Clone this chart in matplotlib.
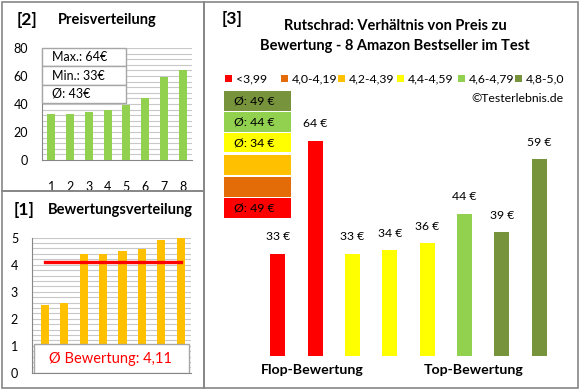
import numpy as np
import matplotlib
matplotlib.use('Agg')
import matplotlib.pyplot as plt
from matplotlib.patches import Rectangle

plt.rcParams['font.family'] = ['Lato', 'DejaVu Sans']

# data: products in rating order
ratings = [2.5, 2.6, 4.4, 4.4, 4.5, 4.6, 4.9, 5.0]
prices = [33, 64, 33, 34, 36, 44, 39, 59]
avg_rating_label = 'Ø Bewertung: 4,11'
avg_rating = 4.11

# rating classes
class_labels = ['<3,99', '4,0-4,19', '4,2-4,39', '4,4-4,59', '4,6-4,79', '4,8-5,0']
class_edges = [0, 4.0, 4.2, 4.4, 4.6, 4.8, 5.01]
class_colors = ['#FF0000', '#E36C09', '#FFC000', '#FFFF00', '#92D050', '#77933C']

W, H = 580, 390
grey = '#868686'
gridc = '#C8C8C8'


def fx(x):
    return x / W


def fy(y):
    return 1 - y / H


def ax_at(x0, y0, x1, y1):
    return fig.add_axes([fx(x0), fy(y1), (x1 - x0) / W, (y1 - y0) / H])


def cls(r):
    for i in range(len(class_labels)):
        if class_edges[i] <= r < class_edges[i + 1]:
            return i
    return len(class_labels) - 1


fig = plt.figure(figsize=(5.8, 3.9), dpi=100)

# panel frames
for (x0, y0, x1, y1) in [(2, 2, 204, 191), (2, 191, 204, 388), (204, 2, 578, 388)]:
    fig.add_artist(Rectangle((fx(x0), fy(y1)), (x1 - x0) / W, (y1 - y0) / H,
                             transform=fig.transFigure, fill=False, ec=grey, lw=1.2))

# ---------- [2] Preisverteilung ----------
fig.text(fx(17), fy(20), '[2]', fontsize=12.5, fontweight='bold', va='center')
fig.text(fx(58), fy(20), 'Preisverteilung', fontsize=10.5, fontweight='bold', va='center')

ax1 = ax_at(42, 48, 192, 160)
sp = sorted(prices)
xs = np.arange(1, len(sp) + 1)
ax1.bar(xs, sp, width=0.42, color='#92D050', zorder=3)
ax1.set_xlim(0.5, 8.5)
ax1.set_ylim(0, 80)
ax1.set_yticks([0, 20, 40, 60, 80])
ax1.set_xticks(xs)
for y in np.arange(4, 81, 4):
    ax1.axhline(y, color=gridc, lw=0.8, zorder=1)
for s in ['top', 'right']:
    ax1.spines[s].set_visible(False)
for s in ['left', 'bottom']:
    ax1.spines[s].set_color(grey)
ax1.tick_params(length=0, labelsize=9)
ax1.tick_params(axis='x', pad=15)
ax1.tick_params(axis='y', pad=10)

stats = ['Max.: %d€' % max(prices), 'Min.: %d€' % min(prices),
         'Ø: %d€' % int(np.mean(prices) + 0.5)]
bx0, bx1, by0, by1 = 42, 126, 48, 103
rh = (by1 - by0) / 3
for i, t in enumerate(stats):
    top = by0 + i * rh
    fig.add_artist(Rectangle((fx(bx0), fy(top + rh)), (bx1 - bx0) / W, rh / H,
                             transform=fig.transFigure, fc='white', ec='#A6A6A6', lw=1, zorder=5))
    fig.text(fx(52), fy(top + rh / 2), t, fontsize=9, va='center', zorder=6)

# ---------- [1] Bewertungsverteilung ----------
fig.text(fx(14), fy(210), '[1]', fontsize=12.5, fontweight='bold', va='center')
fig.text(fx(48), fy(210), 'Bewertungsverteilung', fontsize=10.5, fontweight='bold', va='center')

ax2 = ax_at(32, 237.7, 191, 372.7)
xs2 = np.arange(1, len(ratings) + 1)
ax2.bar(xs2, ratings, width=0.42, color='#FFC000', zorder=3)
ax2.set_xlim(0.33, 8.53)
ax2.set_ylim(0, 5)
ax2.set_yticks(range(6))
ax2.set_xticks([])
for y in np.arange(0.2, 5.01, 0.2):
    ax2.axhline(y, color=gridc, lw=0.8, zorder=1)
for s in ['top', 'right']:
    ax2.spines[s].set_visible(False)
for s in ['left', 'bottom']:
    ax2.spines[s].set_color(grey)
ax2.tick_params(length=0, labelsize=9, pad=10)
ax2.plot([xs2[0], xs2[-1]], [avg_rating, avg_rating], color='#FF0000', lw=2.4, zorder=4)
ax2.add_patch(Rectangle((0.45, 0), 8.0, 1.05, fc='white', ec='#A6A6A6', lw=1, zorder=5))
ax2.text(4.4, 0.52, avg_rating_label, color='#FF0000', fontsize=10.5,
         ha='center', va='center', zorder=6)

# ---------- [3] Preis zu Bewertung ----------
fig.text(fx(222), fy(19), '[3]', fontsize=12.5, fontweight='bold', va='center')
fig.text(fx(395), fy(26), 'Rutschrad: Verhältnis von Preis zu', fontsize=10.5,
         fontweight='bold', ha='center', va='center')
fig.text(fx(395), fy(46), 'Bewertung - 8 Amazon Bestseller im Test', fontsize=10.5,
         fontweight='bold', ha='center', va='center')

leg_x = [225, 281, 338, 397, 458, 515]
for x, lab, c in zip(leg_x, class_labels, class_colors):
    fig.add_artist(Rectangle((fx(x), fy(82)), 7 / W, 7 / H, transform=fig.transFigure,
                             fc=c, ec='none'))
    fig.text(fx(x + 11), fy(78.5), lab, fontsize=8.8, va='center')
fig.text(fx(563), fy(98), '©Testerlebnis.de', fontsize=8.8, ha='right', va='center')

# class averages, top = best class
groups = {}
for r, p in zip(ratings, prices):
    groups.setdefault(cls(r), []).append(p)
box_tops = [91, 112, 133, 155, 177, 198]
for k, top in zip(range(len(class_labels) - 1, -1, -1), box_tops):
    fig.add_artist(Rectangle((fx(224), fy(top + 19.5)), 67 / W, 19.5 / H,
                             transform=fig.transFigure, fc=class_colors[k], ec='none'))
    if k in groups:
        fig.text(fx(234), fy(top + 10), 'Ø: %d €' % int(np.mean(groups[k]) + 0.5),
                 fontsize=8.8, va='center')

ax3 = ax_at(259, 60, 558, 355.7)
xs3 = np.arange(len(prices))
bar_cols = [class_colors[cls(r)] for r in ratings]
ax3.bar(xs3, prices, width=0.4, color=bar_cols, bottom=0)
ax3.set_xlim(-0.5, len(prices) - 0.5)
ax3.set_ylim(5, 86.1)
ax3.axis('off')
for x, p in zip(xs3, prices):
    ax3.annotate('%d €' % p, (x, p), xytext=(0, 8), textcoords='offset points',
                 ha='center', va='bottom', fontsize=8.8)

fig.text(fx(312), fy(370), 'Flop-Bewertung', fontsize=10.2, fontweight='bold',
         ha='center', va='center')
fig.text(fx(474), fy(370), 'Top-Bewertung', fontsize=10.2, fontweight='bold',
         ha='center', va='center')

fig.savefig('out.png', dpi=100)
